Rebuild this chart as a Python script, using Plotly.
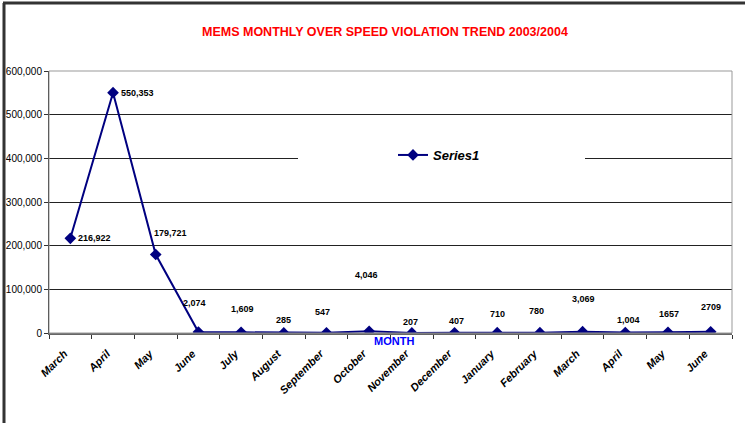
import plotly.graph_objects as go

months = ["March", "April", "May", "June", "July", "August", "September", "October",
          "November", "December", "January", "February", "March", "April", "May", "June"]
violations = [216922, 550353, 179721, 2074, 1609, 285, 547, 4046,
              207, 407, 710, 780, 3069, 1004, 1657, 2709]
value_labels = ["216,922", "550,353", "179,721", "2,074", "1,609", "285", "547", "4,046",
                "207", "407", "710", "780", "3,069", "1,004", "1657", "2709"]
# label offsets in pixels (x, y) relative to each point
label_dx = [24, 24, 15, -4, 1, 0, -4, -3, -1, 2, 0, -3, 1, 3, 1, 0]
label_dy = [0, 0, 22, 29, 23, 13, 21, 56, 11, 12, 19, 22, 33, 13, 18, 25]
y_ticks = [0, 100000, 200000, 300000, 400000, 500000, 600000]

FONT = "Arial, Liberation Sans, sans-serif"
idx = list(range(len(months)))

fig = go.Figure()
fig.add_trace(go.Scatter(
    x=idx, y=violations, mode="lines+markers", name="Series1",
    line=dict(color="#000080", width=2),
    marker=dict(symbol="diamond", size=9, color="#000080"),
))

W, H = 745, 423
L, R, T, B = 49, 13, 71, 90
pw, ph = W - L - R, H - T - B

def px_to_paper_x(px):
    return (px - L) / pw

def px_to_paper_y(py):
    return (H - B - py) / ph

annotations = []
for i, v, t, dx, dy in zip(idx, violations, value_labels, label_dx, label_dy):
    annotations.append(dict(x=i, y=v, xref="x", yref="y", text=t, showarrow=False,
                            xshift=dx, yshift=dy,
                            font=dict(family=FONT, size=9, color="black", weight="bold")))
annotations.append(dict(x=0.5, y=px_to_paper_y(341), xref="paper", yref="paper",
                        text="MONTH", showarrow=False, xanchor="center", yanchor="middle",
                        xshift=3,
                        font=dict(family=FONT, size=11, color="#0000FF", weight="bold")))
annotations.append(dict(x=px_to_paper_x(384.5), y=px_to_paper_y(32), xref="paper", yref="paper",
                        text="MEMS MONTHLY OVER SPEED VIOLATION TREND 2003/2004",
                        showarrow=False, xanchor="center", yanchor="middle",
                        font=dict(family="Liberation Sans Narrow, Arial Narrow, " + FONT,
                                  size=12.5, color="#FF0000", weight="bold")))

shapes = [
    dict(type="rect", xref="paper", yref="paper", x0=0, x1=1, y0=0, y1=1,
         line=dict(color="#999999", width=1), layer="above"),
    dict(type="rect", xref="paper", yref="paper",
         x0=px_to_paper_x(298), x1=px_to_paper_x(585),
         y0=px_to_paper_y(176), y1=px_to_paper_y(140),
         line=dict(width=0), fillcolor="white", layer="above"),
    dict(type="line", xref="paper", yref="paper",
         x0=px_to_paper_x(4), x1=px_to_paper_x(4), y0=px_to_paper_y(430), y1=px_to_paper_y(3),
         line=dict(color="#333333", width=3)),
    dict(type="line", xref="paper", yref="paper",
         x0=px_to_paper_x(3), x1=px_to_paper_x(750), y0=px_to_paper_y(3), y1=px_to_paper_y(3),
         line=dict(color="#333333", width=3)),
]

fig.update_layout(
    width=W, height=H,
    margin=dict(l=L, r=R, t=T, b=B, pad=0, autoexpand=False),
    paper_bgcolor="white", plot_bgcolor="white",
    showlegend=True,
    legend=dict(x=px_to_paper_x(393), y=px_to_paper_y(155), xanchor="left", yanchor="middle",
                xref="paper", yref="paper", bgcolor="rgba(0,0,0,0)", itemwidth=30,
                font=dict(family=FONT, size=13, color="black", weight="bold", style="italic")),
    annotations=annotations,
    shapes=shapes,
    font=dict(family=FONT, color="black"),
)

fig.update_xaxes(
    automargin=False,
    range=[-0.5, len(months) - 0.5],
    tickmode="array", tickvals=idx, ticktext=months, tickangle=-45,
    ticks="", showgrid=False, zeroline=False,
    showline=True, linecolor="#666666", linewidth=2,
    ticklabelstandoff=8, ticklabelshift=-6,
    tickfont=dict(family=FONT, size=11, color="black", weight="bold", style="italic"),
    minor=dict(tick0=-0.5, dtick=1, ticks="outside", ticklen=4, tickcolor="#333333",
               showgrid=False),
)
fig.update_yaxes(
    automargin=False,
    range=[0, 600000], tickmode="array", tickvals=y_ticks, tickformat=",",
    ticks="outside", ticklen=4, tickcolor="#333333",
    showgrid=True, gridcolor="#222222", gridwidth=1, zeroline=False,
    showline=True, linecolor="#222222", linewidth=1,
    tickfont=dict(family=FONT, size=10, color="black"),
)

fig.write_html("out.html", config={"displayModeBar": False},
               post_script="document.body.style.margin='0';")
